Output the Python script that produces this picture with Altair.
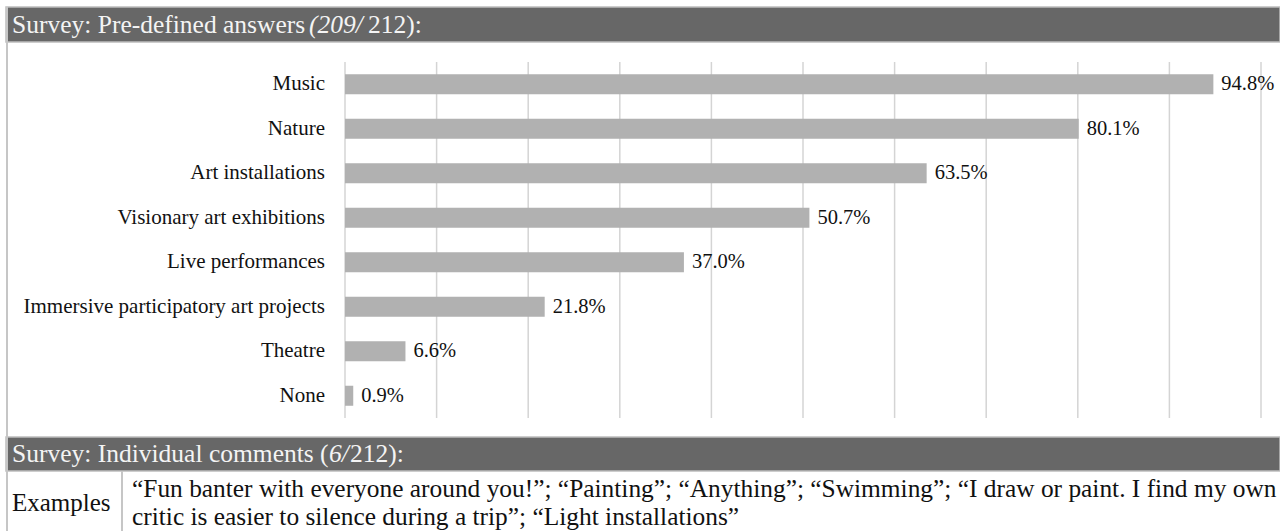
import altair as alt
import pandas as pd

# ---- data ----
categories = [
    "Music",
    "Nature",
    "Art installations",
    "Visionary art exhibitions",
    "Live performances",
    "Immersive participatory art projects",
    "Theatre",
    "None",
]
values = [94.8, 80.1, 63.5, 50.7, 37.0, 21.8, 6.6, 0.9]
grid_ticks = [0, 10, 20, 30, 40, 50, 60, 70, 80, 90, 100]

header1_parts = ["Survey: Pre-defined answers ", "(209/", "212):"]
header2_parts = ["Survey: Individual comments (", "6/", "212):"]
row_label = "Examples"
comment_lines = [
    "\u201cFun banter with everyone around you!\u201d; \u201cPainting\u201d; \u201cAnything\u201d; \u201cSwimming\u201d; \u201cI draw or paint. I find my own",
    "critic is easier to silence during a trip\u201d; \u201cLight installations\u201d",
]

df = pd.DataFrame({"category": categories, "value": values})
df["label"] = [f"{v:.1f}%" for v in values]
grid_df = pd.DataFrame({"t": grid_ticks})
one = pd.DataFrame({"d": [0]})

FONT = "'Liberation Serif', 'Times New Roman', Times, serif"
HEAD_BG = "#676767"
HEAD_FG = "#f4f4f4"
BORDER = "#c6c6c6"

xscale = alt.Scale(domain=[0, 100], range=[345, 1261], nice=False, zero=True)
yscale = alt.Scale(domain=categories, range=[62, 418], paddingInner=0.55, paddingOuter=0.275)
Y = alt.Y("category:N", scale=yscale, axis=None, sort=categories)

# ---- chart area ----
grid = alt.Chart(grid_df).mark_rule(color="#d4d4d4", strokeWidth=1.5).encode(
    x=alt.X("t:Q", scale=xscale, axis=None),
    y=alt.value(62),
    y2=alt.value(418),
)

bars = alt.Chart(df).mark_bar(color="#b1b1b1").encode(
    x=alt.X("value:Q", scale=xscale, axis=None),
    y=Y,
)

cat_labels = alt.Chart(df).mark_text(
    align="right", baseline="middle", font=FONT, fontSize=21, color="#111111"
).encode(x=alt.value(325), y=Y, text="category:N")

val_labels = alt.Chart(df).mark_text(
    align="left", baseline="middle", dx=8, font=FONT, fontSize=20.5, color="#111111"
).encode(x=alt.X("value:Q", scale=xscale, axis=None), y=Y, text="label:N")

# ---- table decoration ----
def rect(x1, x2, y1, y2, color, stroke=None):
    kw = {"color": color}
    if stroke:
        kw.update(stroke=stroke, strokeWidth=1.5)
    return alt.Chart(one).mark_rect(**kw).encode(
        x=alt.value(x1), x2=alt.value(x2), y=alt.value(y1), y2=alt.value(y2)
    )

def rule(x1, x2, y1, y2, color=BORDER, w=2):
    return alt.Chart(one).mark_rule(color=color, strokeWidth=w).encode(
        x=alt.value(x1), x2=alt.value(x2), y=alt.value(y1), y2=alt.value(y2)
    )

def txt(s, x, y, size, color, style="normal", align="left"):
    return alt.Chart(one).mark_text(
        text=s, align=align, baseline="middle", font=FONT, fontSize=size,
        fontStyle=style, color=color
    ).encode(x=alt.value(x), y=alt.value(y))

head1 = rect(6, 1280, 7, 42, HEAD_BG, stroke="#bdbdbd")
head2 = rect(6, 1280, 437, 471, HEAD_BG, stroke="#bdbdbd")
left_border = rule(7, 7, 7, 531)
sep = rule(122, 122, 471, 531)

h1 = [
    txt(header1_parts[0], 12, 25, 25.5, HEAD_FG),
    txt(header1_parts[1], 309, 25, 25.5, HEAD_FG, "italic"),
    txt(header1_parts[2], 368, 25, 25.5, HEAD_FG),
]
h2 = [
    txt(header2_parts[0], 12, 454, 25.5, HEAD_FG),
    txt(header2_parts[1], 329, 454, 25.5, HEAD_FG, "italic"),
    txt(header2_parts[2], 350, 454, 25.5, HEAD_FG),
]
body = [
    txt(row_label, 12, 503, 25, "#111111"),
    txt(comment_lines[0], 132, 489, 25.4, "#111111"),
    txt(comment_lines[1], 132, 517, 25.4, "#111111"),
]

chart = alt.layer(
    grid, bars, cat_labels, val_labels,
    head1, head2, left_border, sep, *h1, *h2, *body
).properties(
    width=1280, height=531, autosize="none", padding=0, background="white"
).configure_view(stroke=None)

chart.save("out.html", embed_options={"renderer": "svg", "actions": False})
